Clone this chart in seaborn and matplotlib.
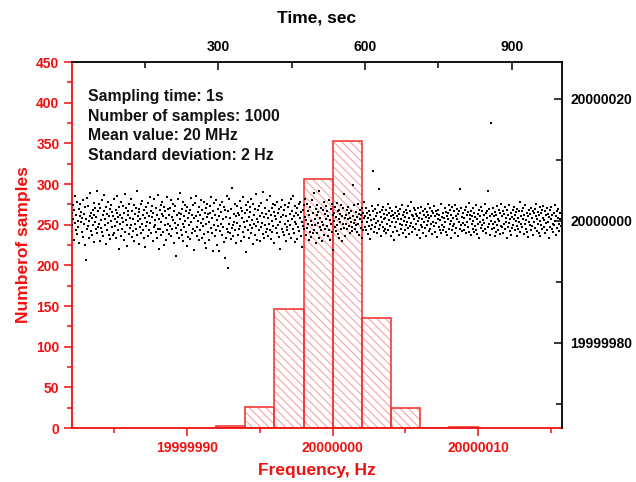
import numpy as np
import pandas as pd
import matplotlib
matplotlib.use("Agg")
import matplotlib.pyplot as plt
import seaborn as sns
from matplotlib.ticker import MultipleLocator, FuncFormatter

# ---------------- data ----------------
CENTER_HZ = 20000000
# histogram: bin edges (Hz offset from 20 MHz) and counts per bin
bin_edges_offset = [-8, -6, -4, -2, 0, 2, 4, 6, 8, 10]
bin_counts = [3, 26, 146, 306, 353, 135, 25, 0, 1]

# time series: frequency deviation from 20 MHz in units of 0.1 Hz, one per second (t = 1..1000)
freq_dev_tenths = [
    12, -8, 25, 3, -31, 17, -4, 40, -15, 9, -22, 31, 0, -11, 19, -36, 7, 28, -3, 14,
    -19, 5, 33, -27, 11, -6, 22, -40, -64, 2, -13, 37, -9, 24, -1, -29, 8, 45, -17, 13,
    4, -24, 18, -7, 29, -35, 10, -2, 21, -14, 6, 48, -21, 15, -10, 27, -5, -33, 20, 1,
    -12, 34, -18, 9, -26, 16, 42, -8, 3, -39, 23, -15, 11, -4, 30, -23, 7, -30, 19, -1,
    26, -11, 14, -24, 8, -20, 35, 2, -9, 17, -28, 12, -3, 41, -16, 6, -47, 22, -6, 10,
    -25, 31, 5, -14, 24, -2, -32, 13, 44, -19, 1, 20, -8, -41, 16, 9, -22, 28, -12, 4,
    36, -7, -27, 15, 3, -17, 25, -34, 11, -5, 21, -13, 48, -24, 7, -1, 19, -38, 14, -10,
    2, 27, -20, -6, 32, -15, 10, -29, 18, 5, -43, 23, -9, 13, -3, 29, -26, 8, -16, 39,
    -4, 16, -21, 6, 24, -33, 12, -11, 35, -7, 1, -19, 20, -28, 9, 42, -14, 3, -46, 17,
    -13, 26, -2, -24, 11, 30, -18, 7, -40, 22, -8, 15, -31, 4, 38, -16, 19, -5, -22, 10,
    21, -9, 33, -25, 6, -14, 28, 1, -37, 16, -4, 24, -12, -58, 9, -20, 36, -7, 13, -29,
    3, 46, -16, 11, -23, 19, -6, 31, -34, 8, -11, 26, -1, -19, 15, -42, 22, 5, -27, 12,
    -8, 18, -30, 37, -3, 10, -21, 25, -13, 4, -49, 29, -17, 7, 41, -10, -26, 14, 0, -32,
    23, -15, 9, -4, 34, -28, 17, -9, 2, -22, 30, -36, 12, -6, 20, -45, 6, 27, -18, 11,
    -2, -31, 24, 13, -12, 38, -20, 5, -50, 16, -7, 29, -25, 10, -15, 33, 1, -40, 19, -9,
    8, -50, 26, -17, 14, -5, 31, -23, 3, -11, 22, -35, -62, 17, 6, -28, 40, -13, -78, -19,
    15, -6, 35, -21, 4, -30, 19, -12, 54, -8, -26, 11, -2, 28, -16, 7, -37, 24, -4, 13,
    -24, 9, -14, 32, -9, 21, -33, 5, 16, -18, 39, -3, -27, 12, -10, 25, -51, 18, -1, 30,
    -15, 6, -29, 22, -7, 14, -20, 36, 1, -12, 27, -38, 10, -5, 19, -24, 43, -9, 3, -31,
    17, -2, 24, -16, 8, -34, 29, -11, 13, -4, 47, -22, 6, -28, 20, -8, 11, -19, 33, -13,
    4, -25, 16, -6, 41, -15, 9, -30, 21, -1, -18, 28, -9, 14, -36, 7, 25, -12, 2, -21,
    31, -7, 12, -27, 19, -3, -47, 23, 6, -14, 34, -19, 10, -24, 17, -5, 26, -33, 8, -10,
    -16, 22, -1, 29, -22, 11, -8, 35, -29, 3, 15, -13, 40, -20, 7, -2, 24, -35, 13, -6,
    20, -30, 9, -11, 27, -17, 4, 31, -26, 14, -3, -44, 18, -9, 25, -14, 6, 36, -23, 1,
    -12, 28, -5, 16, -32, 10, -18, 22, -1, -27, 33, -8, 12, -21, 45, -15, 3, -7, 19, -36,
    9, -20, 26, -4, 14, -29, 49, -10, 5, -16, 21, -2, -34, 17, -7, 30, -24, 11, -13, 2,
    24, -9, 16, -26, 7, 34, -15, 1, -31, 19, -5, 27, -19, 10, -48, 13, -1, 22, -11, 6,
    -17, 29, -8, 15, -22, 3, 18, -28, 11, -3, 25, -14, 7, -33, 20, -6, 43, -12, 4, -25,
    10, -6, 18, -14, 3, 22, -9, 13, -21, 5, -2, 16, -11, -17, 59, 8, -4, 25, -13, 1,
    -8, 14, -19, 6, 27, -5, 11, -24, 2, 17, -12, 9, -28, 20, -3, 12, -16, 4, 30, -10,
    7, -15, 21, -2, 13, -22, 5, -9, 16, -30, 10, 1, -13, 24, -7, 82, 15, -18, 3, -11,
    19, -4, 8, -20, 12, -1, 26, -14, 52, -8, 14, -25, 6, -3, 18, -10, 23, -17, 2, 11,
    -13, 4, 17, -21, 9, -6, 28, -15, 1, 12, -9, 20, -26, 7, -2, 15, -19, 10, -31, 5,
    13, -11, 22, -3, 8, -17, 3, 16, -24, 11, -5, 19, -14, 2, 26, -8, 9, -20, 14, -1,
    -16, 6, -27, 18, -7, 12, -2, 24, -12, 4, -22, 15, -9, 30, -4, 10, -18, 7, -11, 21,
    2, -14, 17, -5, 11, -23, 8, -1, 20, -16, 5, -29, 13, -7, 23, -10, 3, 16, -20, 9,
    -3, 19, -12, 6, -25, 14, -8, 27, -1, 10, -17, 4, 21, -13, 8, -6, 15, -22, 12, -2,
    24, -9, 7, -18, 16, -4, 11, -27, 3, 18, -11, 9, -15, 1, 28, -21, 6, -7, 13, -16,
    5, -10, 20, -3, 14, -19, 8, -24, 12, 2, -13, 25, -6, 17, -28, 10, -1, 22, -15, 4,
    -9, 15, -5, 26, -20, 7, -12, 3, 19, -26, 11, -2, 16, -14, 52, -8, 21, -17, 6, -4,
    12, -16, 4, 18, -7, 23, -21, 9, -3, 14, -11, 29, -18, 2, 10, -24, 16, -6, 8, -13,
    20, -1, -19, 13, -9, 6, 25, -15, 3, -22, 11, -5, 17, -28, 7, -2, 22, -12, 15, -8,
    1, -17, 9, -4, 27, -13, 12, -20, 5, 16, 49, -10, -6, 19, -23, 8, 160, -1, -14, 11,
    -5, 21, -12, 7, -26, 14, -3, 10, -18, 24, -8, 3, -15, 18, -1, -22, 12, -9, 28, -11,
    8, -20, 15, -6, 11, -14, 22, -2, 5, -29, 17, -10, 9, -4, 26, -17, 3, 13, -23, 6,
    -12, 18, -7, 2, 23, -16, 9, -1, 14, -25, 19, -9, 4, -13, 16, -3, 30, -19, 7, -6,
    15, -11, 3, 20, -22, 10, -5, 25, -14, 1, 12, -18, 8, -27, 17, -2, 11, -8, 21, -15,
    4, -9, 16, -24, 13, -3, 19, -12, 7, 28, -17, 2, -6, 14, -20, 9, -1, 23, -26, 12,
    -7, 17, -13, 5, 24, -10, 1, -21, 15, -4, 9, -16, 20, -2, 11, -28, 6, 18, -11, 3,
    22, -14, 10, -5, -19, 13, -8, 26, -1, 7, -23, 16, -12, 4, 19, -6, -17, 12, 2, -9,
]

# ---------------- style ----------------
RED = "#f01010"
sns.set_theme(style="ticks")
plt.rcParams["font.family"] = ["Liberation Sans", "DejaVu Sans"]
plt.rcParams["font.weight"] = "bold"
plt.rcParams["axes.labelweight"] = "bold"
plt.rcParams["hatch.linewidth"] = 0.7

edges_abs = [CENTER_HZ + e for e in bin_edges_offset]
hist_df = pd.DataFrame({
    "freq": [CENTER_HZ + (a + b) / 2 for a, b in zip(bin_edges_offset[:-1], bin_edges_offset[1:])],
    "count": bin_counts,
})
scatter_df = pd.DataFrame({
    "time": np.arange(1, len(freq_dev_tenths) + 1),
    "freq": CENTER_HZ + np.array(freq_dev_tenths) / 10.0,
})

fig = plt.figure(figsize=(6.36, 4.82), dpi=100)
rect = [72 / 636, 1 - 428 / 482, 490 / 636, 366 / 482]
ax = fig.add_axes(rect)

# hatched fill (light red) then outline (red)
sns.histplot(data=hist_df, x="freq", weights="count", bins=edges_abs, ax=ax,
             element="bars", fill=True, facecolor="white", edgecolor="#f39a9a",
             linewidth=0.0, hatch="\\\\\\\\")
sns.histplot(data=hist_df, x="freq", weights="count", bins=edges_abs, ax=ax,
             element="bars", fill=True, facecolor="none", edgecolor="#f33a3a",
             linewidth=1.2)

ax.set_xlim(19999982.1, 20000015.75)
ax.set_ylim(0, 450)
ax.xaxis.set_major_locator(MultipleLocator(10))
ax.xaxis.set_minor_locator(MultipleLocator(5))
ax.yaxis.set_major_locator(MultipleLocator(50))
ax.yaxis.set_minor_locator(MultipleLocator(25))
ax.xaxis.set_major_formatter(FuncFormatter(lambda v, p: f"{v:.0f}"))
ax.yaxis.set_major_formatter(FuncFormatter(lambda v, p: f"{v:.0f}"))
ax.tick_params(axis="both", which="major", direction="out", length=6, width=1.1,
               colors=RED, labelsize=10, pad=3)
ax.tick_params(axis="both", which="minor", direction="out", length=3.5, width=1.1, colors=RED)
ax.set_xlabel("Frequency, Hz", color=RED, fontsize=12.5, fontweight="bold", labelpad=6)
ax.set_ylabel("Numberof samples", color=RED, fontsize=12.5, fontweight="bold", labelpad=4)
for s in ["top", "right"]:
    ax.spines[s].set_visible(False)
for s in ["left", "bottom"]:
    ax.spines[s].set_color(RED)
    ax.spines[s].set_linewidth(1.3)
ax.grid(False)

# scatter on the top/right axes
ax2 = fig.add_axes(rect)
ax2.patch.set_visible(False)
sns.scatterplot(data=scatter_df, x="time", y="freq", ax=ax2, color="black",
                marker="s", s=4, linewidth=0)
ax2.set_xlim(1, 1003)
ax2.set_ylim(19999966.0, 20000026.0)
ax2.xaxis.tick_top()
ax2.xaxis.set_label_position("top")
ax2.yaxis.tick_right()
ax2.yaxis.set_label_position("right")
ax2.xaxis.set_major_locator(MultipleLocator(300))
ax2.xaxis.set_minor_locator(MultipleLocator(150))
ax2.yaxis.set_major_locator(MultipleLocator(20))
ax2.yaxis.set_minor_locator(MultipleLocator(10))
ax2.xaxis.set_major_formatter(FuncFormatter(lambda v, p: f"{v:.0f}"))
ax2.yaxis.set_major_formatter(FuncFormatter(lambda v, p: f"{v:.0f}"))
ax2.tick_params(axis="both", which="major", direction="in", length=6, width=1.1,
                colors="black", labelsize=10, pad=6)
ax2.tick_params(axis="both", which="minor", direction="in", length=4, width=1.1, colors="black")
ax2.set_xlabel("Time, sec", fontsize=12.5, fontweight="bold", labelpad=12, color="black")
ax2.set_ylabel("")
for s in ["left", "bottom"]:
    ax2.spines[s].set_visible(False)
for s in ["top", "right"]:
    ax2.spines[s].set_visible(True)
    ax2.spines[s].set_color("black")
    ax2.spines[s].set_linewidth(1.3)
ax2.grid(False)

ax2.text(0.033, 0.925,
         "Sampling time: 1s\nNumber of samples: 1000\nMean value: 20 MHz\nStandard deviation: 2 Hz",
         transform=ax2.transAxes, ha="left", va="top", fontsize=11.4,
         fontweight="bold", linespacing=1.37, color="#111111")

fig.savefig("out.png", dpi=100)
